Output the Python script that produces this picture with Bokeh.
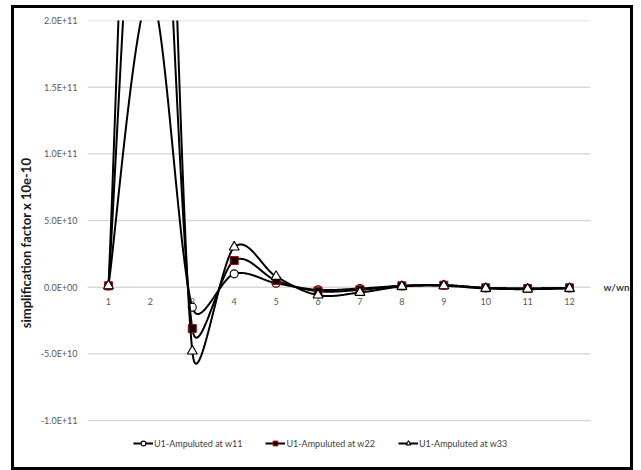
import numpy as np
from bokeh.plotting import figure
from bokeh.models import FixedTicker, Legend, LegendItem, Label
from bokeh.core.properties import value
from bokeh.embed import file_html
from bokeh.resources import INLINE

# ---------------- data ----------------
categories = [1, 2, 3, 4, 5, 6, 7, 8, 9, 10, 11, 12]
x_labels = ["1", "2", "3", "4", "5", "6", "7", "8", "9", "10", "11", "12"]
y_ticks = [-1.0e11, -5.0e10, 0.0, 5.0e10, 1.0e11, 1.5e11, 2.0e11]
y_tick_labels = ["-1.0E+11", "-5.0E+10", "0.0E+00", "5.0E+10", "1.0E+11", "1.5E+11", "2.0E+11"]
series_names = ["U1-Ampuluted at w11", "U1-Ampuluted at w22", "U1-Ampuluted at w33"]
w11 = [0.1e10, 2.2e11, -1.5e10, 1.0e10, 0.3e10, -0.2e10, -0.1e10, 0.1e10, 0.15e10, -0.05e10, -0.1e10, -0.05e10]
w22 = [0.1e10, 4.4e11, -3.1e10, 2.0e10, 0.5e10, -0.3e10, -0.2e10, 0.1e10, 0.15e10, -0.05e10, -0.1e10, -0.05e10]
w33 = [0.1e10, 6.5e11, -4.8e10, 3.0e10, 0.8e10, -0.6e10, -0.4e10, 0.05e10, 0.1e10, -0.1e10, -0.15e10, -0.1e10]

# ---------------- layout ----------------
W, H = 622, 465
FL, FR, FT, FB = 73, 2, 12, 8
AREA_W, AREA_H = 503, 400          # plot area (gridline extent) in pixels
X0, X1 = 0.5, 12.5
Y0, Y1 = -1.0e11, 2.0e11
sx = AREA_W / (X1 - X0)
sy = AREA_H / (Y1 - Y0)
frame_w = W - FL - FR
frame_h = H - FT - FB
XR = X0 + frame_w / sx             # frame extends right to hold "w/wn"
YB = Y1 - frame_h / sy             # frame extends down to hold the legend


def smooth(xs, ys, n=40):
    """Excel-like smoothed line (Bezier with capped control points), computed in pixel space."""
    P = np.column_stack([np.asarray(xs, float) * sx, np.asarray(ys, float) * sy])
    m = len(P)
    out = []
    for i in range(m - 1):
        p0 = P[i - 1] if i > 0 else P[i]
        p1 = P[i]
        p2 = P[i + 1]
        p3 = P[i + 2] if i + 2 < m else P[i + 1]
        d12 = np.hypot(*(p2 - p1))
        d02 = np.hypot(*(p2 - p0))
        d13 = np.hypot(*(p3 - p1))
        f1 = 1 / 6 if d02 / 6 < d12 / 2 else d12 / (2 * d02)
        f2 = 1 / 6 if d13 / 6 < d12 / 2 else d12 / (2 * d13)
        c1 = p1 + f1 * (p2 - p0)
        c2 = p2 - f2 * (p3 - p1)
        t = np.linspace(0, 1, n)[:, None]
        if i > 0:
            t = t[1:]
        B = (1 - t) ** 3 * p1 + 3 * (1 - t) ** 2 * t * c1 + 3 * (1 - t) * t ** 2 * c2 + t ** 3 * p2
        out.append(B)
    pts = np.vstack(out)
    return pts[:, 0] / sx, pts[:, 1] / sy


p = figure(width=W, height=H, x_range=(X0, XR), y_range=(YB, Y1),
           output_backend="svg", toolbar_location=None,
           x_axis_location=None,
           min_border_left=FL, min_border_right=FR, min_border_top=FT, min_border_bottom=FB)
p.styles = {"border": "3px solid #000000", "margin-left": "11px", "margin-top": "5px"}
p.outline_line_color = None
p.background_fill_color = "white"
p.border_fill_color = "white"
p.xgrid.visible = False
p.ygrid.visible = False

p.yaxis.ticker = FixedTicker(ticks=y_ticks)
p.yaxis.major_label_overrides = {t: l for t, l in zip(y_ticks, y_tick_labels)}
p.yaxis.axis_line_color = None
p.yaxis.major_tick_line_color = None
p.yaxis.minor_tick_line_color = None
p.yaxis.major_tick_out = 0
p.yaxis.major_tick_in = 0
p.yaxis.minor_tick_out = 0
p.yaxis.minor_tick_in = 0
p.yaxis.major_label_standoff = 10
p.yaxis.major_label_text_font = "Lato"
p.yaxis.major_label_text_font_size = "9px"
p.yaxis.major_label_text_color = "#595959"
p.yaxis.axis_label = "simplification factor x 10e-10"
p.yaxis.axis_label_text_font = "Lato"
p.yaxis.axis_label_text_font_style = "bold"
p.yaxis.axis_label_text_font_size = "13px"
p.yaxis.axis_label_text_color = "#1a1a1a"
p.yaxis.axis_label_standoff = 4

# horizontal gridlines across the plot area only
p.segment(x0=[X0] * len(y_ticks), y0=y_ticks, x1=[X1] * len(y_ticks), y1=y_ticks,
          line_color="#d9d9d9", line_width=1.5)

# category labels along the zero line
p.text(x=categories, y=[0.0] * len(categories), text=x_labels, text_align="center",
       text_baseline="middle", y_offset=14, text_font=value("Lato"),
       text_font_size="9px", text_color="#595959")

styles = [
    dict(marker="circle", size=8, fill_color="white", line_color="black", line_width=1.1),
    dict(marker="square", size=8, fill_color="black", line_color="#c00000", line_width=1.0),
    dict(marker="triangle", size=10, fill_color="white", line_color="black", line_width=1.1),
]
items = []
for name, ys, st in zip(series_names, [w11, w22, w33], styles):
    cx, cy = smooth(categories, ys)
    lr = p.line(cx, cy, line_color="black", line_width=2)
    sr = p.scatter(categories, ys, **st)
    items.append(LegendItem(label=name, renderers=[lr, sr]))

legend = Legend(items=items, orientation="horizontal", location=(46, 16),
                glyph_width=20, glyph_height=12, label_standoff=1, spacing=23,
                padding=2, margin=0, border_line_color=None, background_fill_alpha=0,
                label_text_font="Lato", label_text_font_size="9px",
                label_text_color="#404040", label_height=12)
p.add_layout(legend)

p.add_layout(Label(x=X1, y=0.0, x_offset=13, text="w/wn", text_baseline="middle",
                   text_font="Lato", text_font_style="bold", text_font_size="10px",
                   text_color="#404040"))

open("out.html", "w").write(file_html(p, INLINE))
